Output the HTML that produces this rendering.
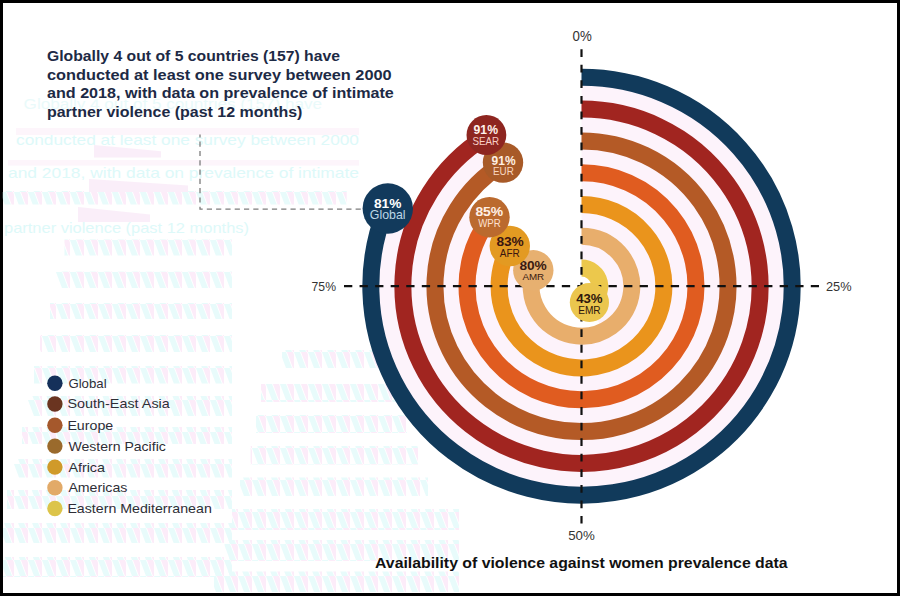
<!DOCTYPE html>
<html><head><meta charset="utf-8"><style>
html,body{margin:0;padding:0;background:#fff;}
body{width:900px;height:596px;overflow:hidden;position:relative;}
svg{position:absolute;left:0;top:0;display:block;}
text{font-family:"Liberation Sans",sans-serif;}
</style></head><body>
<svg width="900" height="596" viewBox="0 0 900 596">
<rect x="0" y="0" width="900" height="596" fill="#000"/>
<rect x="3" y="3" width="894" height="590" fill="#fff"/>
<g opacity="0.6"><defs><pattern id="gp" patternUnits="userSpaceOnUse" width="14" height="16"><polygon points="0,0 6,0 12,16 6,16" fill="#d9f9f9"/><polygon points="7,0 13,0 14,3 14,16 13,16" fill="#fbe0f6"/></pattern></defs>
<rect x="64.5" y="239.4" width="167.5" height="16.1" fill="url(#gp)"/>
<rect x="56" y="271.6" width="176.0" height="16.4" fill="url(#gp)"/>
<rect x="50" y="303" width="182.0" height="16.0" fill="url(#gp)"/>
<rect x="40" y="335" width="192.0" height="17.0" fill="url(#gp)"/>
<rect x="34" y="366" width="198.0" height="17.5" fill="url(#gp)"/>
<rect x="28" y="396" width="204.0" height="20.0" fill="url(#gp)"/>
<rect x="22" y="427" width="210.0" height="17.0" fill="url(#gp)"/>
<rect x="14" y="459" width="218.0" height="18.5" fill="url(#gp)"/>
<rect x="7" y="490" width="225.0" height="19.0" fill="url(#gp)"/>
<rect x="3" y="523" width="229.0" height="20.0" fill="url(#gp)"/>
<rect x="3" y="557" width="229.0" height="20.0" fill="url(#gp)"/>
<rect x="282" y="350" width="172.0" height="18.0" fill="url(#gp)"/>
<rect x="261" y="384" width="157.0" height="18.0" fill="url(#gp)"/>
<rect x="256" y="415" width="151.0" height="18.0" fill="url(#gp)"/>
<rect x="250.6" y="446" width="167.4" height="18.5" fill="url(#gp)"/>
<rect x="240" y="477.5" width="188.0" height="18.5" fill="url(#gp)"/>
<rect x="232" y="509" width="227.0" height="21.0" fill="url(#gp)"/>
<rect x="224.5" y="540" width="234.5" height="21.0" fill="url(#gp)"/>
<rect x="214" y="571.5" width="245.0" height="20.5" fill="url(#gp)"/>
<text x="23.6" y="108.5" font-size="14.5" font-weight="normal" fill="#dcf8f8" textLength="298.4" lengthAdjust="spacingAndGlyphs">Globally 4 out of 5 countries (157) have</text>
<text x="16" y="144.5" font-size="14.5" font-weight="normal" fill="#c8f6f6" textLength="343" lengthAdjust="spacingAndGlyphs">conducted at least one survey between 2000</text>
<text x="8" y="177.5" font-size="14.5" font-weight="normal" fill="#c8f6f6" textLength="351" lengthAdjust="spacingAndGlyphs">and 2018, with data on prevalence of intimate</text>
<text x="4" y="232.5" font-size="14.5" font-weight="normal" fill="#c8f6f6" textLength="245" lengthAdjust="spacingAndGlyphs">partner violence (past 12 months)</text>
<rect x="16" y="128" width="343" height="7" fill="#fcf0fa"/>
<rect x="8" y="160" width="351" height="5.599999999999994" fill="#fcf0fa"/>
<rect x="2.7" y="191" width="344" height="13.5" fill="url(#gp)"/>
<polygon points="94,145 161,151.25 161,157.5 94,157.5" fill="#f8e4f6"/>
<polygon points="89,179 188,185.5 188,192 89,192" fill="#f8e4f6"/>
<polygon points="78,207 150,214.5 150,222 78,222" fill="#f8e4f6"/></g>
<path d="M200,134.6 V209.2 H362" fill="none" stroke="#7c7c7c" stroke-width="1.3" stroke-dasharray="5.2 4.1" stroke-dashoffset="2.3"/>
<g transform="translate(581.5,286.2)" fill="none" stroke-width="17.0">
<path d="M0,-193.00 A194.64,193.00 0 1 1 -180.97,-71.05" stroke="#fdf3fb" stroke-width="32.80"/>
<path d="M0,-161.20 A162.57,161.20 0 1 1 -87.11,-136.11" stroke="#fdf3fb" stroke-width="32.80"/>
<path d="M0,-129.40 A130.50,129.40 0 1 1 -105.58,-76.06" stroke="#fdf3fb" stroke-width="32.80"/>
<path d="M0,-97.60 A98.43,97.60 0 1 1 -86.25,-47.02" stroke="#fdf3fb" stroke-width="32.80"/>
<path d="M0,-65.80 A66.36,65.80 0 1 1 -63.11,-20.33" stroke="#fdf3fb" stroke-width="32.80"/>
<path d="M0,-34.00 A34.29,34.00 0 0 1 14.60,30.76" stroke="#fdf3fb" stroke-width="32.80"/>
<path d="M0,-208.90 A210.68,208.90 0 1 1 -195.88,-76.90" stroke="#113a5b"/>
<path d="M0,-177.10 A178.61,177.10 0 1 1 -95.70,-149.53" stroke="#a12520"/>
<path d="M0,-145.30 A146.54,145.30 0 1 1 -78.52,-122.68" stroke="#b45a26"/>
<path d="M0,-113.50 A114.46,113.50 0 1 1 -92.60,-66.71" stroke="#e05c20"/>
<path d="M0,-81.70 A82.39,81.70 0 1 1 -72.20,-39.36" stroke="#ea941c"/>
<path d="M0,-49.90 A50.32,49.90 0 1 1 -47.86,-15.42" stroke="#e8ae6c"/>
<path d="M0,-18.10 A18.25,18.10 0 0 1 7.77,16.38" stroke="#ecc84c"/>
</g>
<path d="M581.5,49.2 V523.5" stroke="#111" stroke-width="2.2" stroke-dasharray="7.8 7.76" fill="none"/>
<path d="M344,286.2 H819" stroke="#111" stroke-width="2.2" stroke-dasharray="8.3 7.26" fill="none"/>
<circle cx="589.4" cy="302.5" r="19.6" fill="#ebc64e"/>
<text x="576.20" y="303.20" font-size="13.0" font-weight="bold" fill="#2e160c" textLength="26.40" lengthAdjust="spacingAndGlyphs">43%</text>
<text x="578.20" y="313.80" font-size="10.0" font-weight="normal" fill="#2e160c" textLength="22.40" lengthAdjust="spacingAndGlyphs">EMR</text>
<circle cx="533.3" cy="270.3" r="20.2" fill="#e7b070"/>
<text x="519.40" y="269.60" font-size="12.6" font-weight="bold" fill="#3a1a10" textLength="27.40" lengthAdjust="spacingAndGlyphs">80%</text>
<text x="522.40" y="280.00" font-size="9.8" font-weight="normal" fill="#3a1a10" textLength="21.80" lengthAdjust="spacingAndGlyphs">AMR</text>
<circle cx="509.8" cy="246.0" r="20.2" fill="#e39a22"/>
<text x="496.40" y="246.40" font-size="12.6" font-weight="bold" fill="#3a1410" textLength="27.40" lengthAdjust="spacingAndGlyphs">83%</text>
<text x="499.80" y="257.00" font-size="10.0" font-weight="normal" fill="#3a1410" textLength="20.00" lengthAdjust="spacingAndGlyphs">AFR</text>
<circle cx="489.5" cy="217.2" r="20.2" fill="#bb6a2e"/>
<text x="475.40" y="216.30" font-size="13.0" font-weight="bold" fill="#fff0e6" textLength="27.80" lengthAdjust="spacingAndGlyphs">85%</text>
<text x="478.20" y="226.70" font-size="10.0" font-weight="normal" fill="#fde0d0" textLength="22.60" lengthAdjust="spacingAndGlyphs">WPR</text>
<circle cx="503.0" cy="162.6" r="20.2" fill="#a85a28"/>
<text x="491.60" y="164.70" font-size="13.5" font-weight="bold" fill="#fff0e4" textLength="24.00" lengthAdjust="spacingAndGlyphs">91%</text>
<text x="493.00" y="174.70" font-size="10.9" font-weight="normal" fill="#f8d6c0" textLength="20.80" lengthAdjust="spacingAndGlyphs">EUR</text>
<circle cx="486.4" cy="135.0" r="19.9" fill="#8e2620"/>
<text x="473.60" y="134.30" font-size="13.5" font-weight="bold" fill="#fff2ec" textLength="24.40" lengthAdjust="spacingAndGlyphs">91%</text>
<text x="472.40" y="144.90" font-size="10.9" font-weight="normal" fill="#f8cfc6" textLength="26.80" lengthAdjust="spacingAndGlyphs">SEAR</text>
<circle cx="387.8" cy="208.5" r="25.2" fill="#123a5c"/>
<text x="374.00" y="207.50" font-size="13.7" font-weight="bold" fill="#ffffff" textLength="27.40" lengthAdjust="spacingAndGlyphs">81%</text>
<text x="369.80" y="219.10" font-size="12.4" font-weight="normal" fill="#bcd6e6" textLength="35.80" lengthAdjust="spacingAndGlyphs">Global</text>
<circle cx="54.9" cy="383.2" r="7.7" fill="#15305a"/>
<circle cx="54.9" cy="404.0" r="7.7" fill="#6a3420"/>
<circle cx="54.9" cy="425.3" r="7.7" fill="#a5582c"/>
<circle cx="54.9" cy="446.1" r="7.7" fill="#9a6a2c"/>
<circle cx="54.9" cy="467.1" r="7.7" fill="#d09a2a"/>
<circle cx="54.9" cy="487.8" r="7.7" fill="#e2aa68"/>
<circle cx="54.9" cy="508.5" r="7.7" fill="#dcc44a"/>
<text x="47.00" y="61.10" font-size="14.7" font-weight="bold" fill="#1d2a45" textLength="293.00" lengthAdjust="spacingAndGlyphs">Globally 4 out of 5 countries (157) have</text>
<text x="47.00" y="79.60" font-size="14.7" font-weight="bold" fill="#1d2a45" textLength="344.60" lengthAdjust="spacingAndGlyphs">conducted at least one survey between 2000</text>
<text x="47.00" y="98.10" font-size="14.7" font-weight="bold" fill="#1d2a45" textLength="346.80" lengthAdjust="spacingAndGlyphs">and 2018, with data on prevalence of intimate</text>
<text x="47.00" y="116.70" font-size="14.7" font-weight="bold" fill="#1d2a45" textLength="255.40" lengthAdjust="spacingAndGlyphs">partner violence (past 12 months)</text>
<text x="375.00" y="567.70" font-size="15.0" font-weight="bold" fill="#111111" textLength="412.60" lengthAdjust="spacingAndGlyphs">Availability of violence against women prevalence data</text>
<text x="572.60" y="41.00" font-size="13.8" font-weight="normal" fill="#333333" textLength="19.20" lengthAdjust="spacingAndGlyphs">0%</text>
<text x="826.00" y="290.80" font-size="13.5" font-weight="normal" fill="#333333" textLength="25.60" lengthAdjust="spacingAndGlyphs">25%</text>
<text x="311.60" y="290.80" font-size="13.5" font-weight="normal" fill="#333333" textLength="24.40" lengthAdjust="spacingAndGlyphs">75%</text>
<text x="568.20" y="539.90" font-size="13.5" font-weight="normal" fill="#333333" textLength="26.60" lengthAdjust="spacingAndGlyphs">50%</text>
<text x="68.40" y="387.60" font-size="13.2" font-weight="normal" fill="#2e2e36" textLength="38.20" lengthAdjust="spacingAndGlyphs">Global</text>
<text x="67.40" y="408.40" font-size="13.2" font-weight="normal" fill="#2e2e36" textLength="102.40" lengthAdjust="spacingAndGlyphs">South-East Asia</text>
<text x="67.40" y="429.70" font-size="13.2" font-weight="normal" fill="#2e2e36" textLength="45.80" lengthAdjust="spacingAndGlyphs">Europe</text>
<text x="68.40" y="450.50" font-size="13.2" font-weight="normal" fill="#2e2e36" textLength="97.40" lengthAdjust="spacingAndGlyphs">Western Pacific</text>
<text x="68.40" y="471.50" font-size="13.2" font-weight="normal" fill="#2e2e36" textLength="36.60" lengthAdjust="spacingAndGlyphs">Africa</text>
<text x="68.40" y="492.20" font-size="13.2" font-weight="normal" fill="#2e2e36" textLength="59.00" lengthAdjust="spacingAndGlyphs">Americas</text>
<text x="67.40" y="512.90" font-size="13.2" font-weight="normal" fill="#2e2e36" textLength="144.40" lengthAdjust="spacingAndGlyphs">Eastern Mediterranean</text>
</svg>
</body></html>
